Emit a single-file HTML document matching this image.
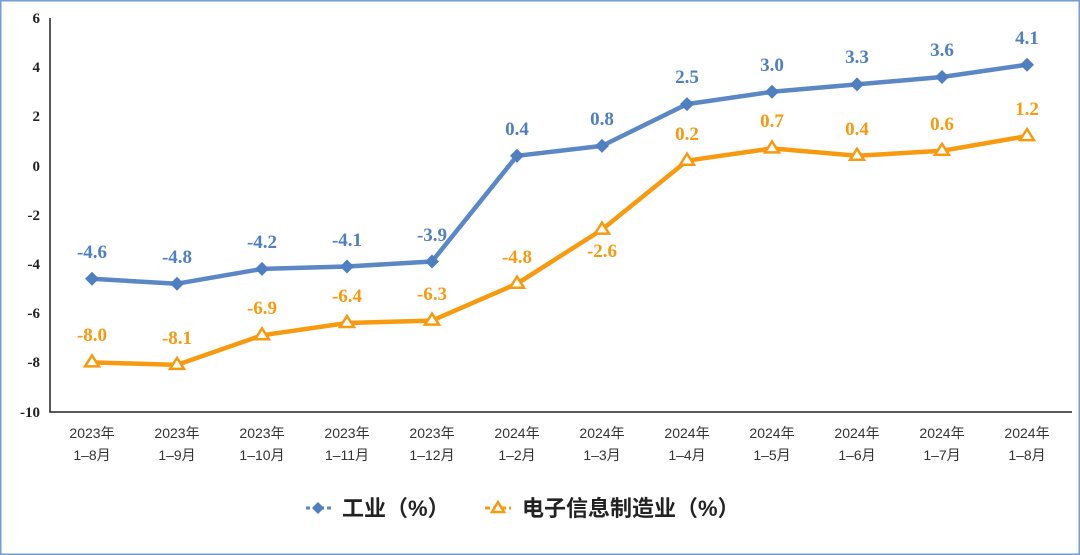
<!DOCTYPE html>
<html><head><meta charset="utf-8"><style>
body{margin:0;background:#fff}
svg{display:block}
</style></head><body>
<svg width="1080" height="555" viewBox="0 0 1080 555" xmlns="http://www.w3.org/2000/svg">
<rect x="0.5" y="0.5" width="1079" height="554" fill="#fff" stroke="#6f9fd6" stroke-width="2"/>
<g font-family="Liberation Serif, serif" font-weight="bold" font-size="15" fill="#222" text-anchor="end">
<text x="40" y="23">6</text><text x="40" y="72">4</text><text x="40" y="121">2</text><text x="40" y="171">0</text>
<text x="40" y="220">-2</text><text x="40" y="269">-4</text><text x="40" y="318">-6</text><text x="40" y="367">-8</text><text x="40" y="417">-10</text>
</g>
<path d="M50 18 V412 H1072" fill="none" stroke="#222" stroke-width="1.5"/>
<g font-family="Liberation Sans, Noto Sans CJK SC, sans-serif" font-size="14" fill="#333" text-anchor="middle">
<text x="92" y="438">2023年</text><text x="92" y="460">1–8月</text>
<text x="177" y="438">2023年</text><text x="177" y="460">1–9月</text>
<text x="262" y="438">2023年</text><text x="262" y="460">1–10月</text>
<text x="347" y="438">2023年</text><text x="347" y="460">1–11月</text>
<text x="432" y="438">2023年</text><text x="432" y="460">1–12月</text>
<text x="517" y="438">2024年</text><text x="517" y="460">1–2月</text>
<text x="602" y="438">2024年</text><text x="602" y="460">1–3月</text>
<text x="687" y="438">2024年</text><text x="687" y="460">1–4月</text>
<text x="772" y="438">2024年</text><text x="772" y="460">1–5月</text>
<text x="857" y="438">2024年</text><text x="857" y="460">1–6月</text>
<text x="942" y="438">2024年</text><text x="942" y="460">1–7月</text>
<text x="1027" y="438">2024年</text><text x="1027" y="460">1–8月</text>
</g>
<polyline fill="none" stroke="#5b87c5" stroke-width="4.5" stroke-linejoin="round" points="92,278.8 177,283.7 262,268.9 347,266.5 432,261.5 517,155.8 602,145.9 687,104.1 772,91.8 857,84.4 942,77 1027,64.7"/>
<g fill="#4f7fc0">
<path d="M92 271.8l7 7-7 7-7-7z"/><path d="M177 276.7l7 7-7 7-7-7z"/><path d="M262 261.9l7 7-7 7-7-7z"/><path d="M347 259.5l7 7-7 7-7-7z"/><path d="M432 254.5l7 7-7 7-7-7z"/><path d="M517 148.8l7 7-7 7-7-7z"/><path d="M602 138.9l7 7-7 7-7-7z"/><path d="M687 97.1l7 7-7 7-7-7z"/><path d="M772 84.8l7 7-7 7-7-7z"/><path d="M857 77.4l7 7-7 7-7-7z"/><path d="M942 70l7 7-7 7-7-7z"/><path d="M1027 57.7l7 7-7 7-7-7z"/>
</g>
<polyline fill="none" stroke="#f79a0f" stroke-width="4.5" stroke-linejoin="round" points="92,362.4 177,364.9 262,335.3 347,323 432,320.6 517,283.7 602,229.6 687,160.7 772,148.4 857,155.8 942,150.8 1027,136.1"/>
<g fill="#fff" stroke="#f79a0f" stroke-width="2.5">
<path d="M92 355.4l7 11h-14z"/><path d="M177 357.9l7 11h-14z"/><path d="M262 328.3l7 11h-14z"/><path d="M347 316l7 11h-14z"/><path d="M432 313.6l7 11h-14z"/><path d="M517 276.7l7 11h-14z"/><path d="M602 222.6l7 11h-14z"/><path d="M687 153.7l7 11h-14z"/><path d="M772 141.4l7 11h-14z"/><path d="M857 148.8l7 11h-14z"/><path d="M942 143.8l7 11h-14z"/><path d="M1027 129.1l7 11h-14z"/>
</g>
<g font-family="Liberation Serif, serif" font-weight="bold" font-size="19" fill="#4f7fc0" text-anchor="middle">
<text x="92" y="258">-4.6</text><text x="177" y="263">-4.8</text><text x="262" y="248">-4.2</text><text x="347" y="246">-4.1</text><text x="432" y="241">-3.9</text><text x="517" y="135">0.4</text><text x="602" y="125">0.8</text><text x="687" y="83">2.5</text><text x="772" y="71">3.0</text><text x="857" y="63">3.3</text><text x="942" y="56">3.6</text><text x="1027" y="44">4.1</text>
</g>
<g font-family="Liberation Serif, serif" font-weight="bold" font-size="19" fill="#f79a0f" text-anchor="middle">
<text x="92" y="341">-8.0</text><text x="177" y="344">-8.1</text><text x="262" y="314">-6.9</text><text x="347" y="302">-6.4</text><text x="432" y="300">-6.3</text><text x="517" y="263">-4.8</text><text x="602" y="257">-2.6</text><text x="687" y="140">0.2</text><text x="772" y="127">0.7</text><text x="857" y="135">0.4</text><text x="942" y="130">0.6</text><text x="1027" y="115">1.2</text>
</g>
<line x1="306" y1="508" x2="331" y2="508" stroke="#5b87c5" stroke-width="3" stroke-dasharray="4,3"/>
<path d="M318 502l6 6-6 6-6-6z" fill="#4f7fc0"/>
<line x1="485" y1="508" x2="511" y2="508" stroke="#f79a0f" stroke-width="3" stroke-dasharray="5,3"/>
<path d="M498 502l6 10h-12z" fill="#fff" stroke="#f79a0f" stroke-width="2.5"/>
<g font-family="Liberation Sans, Noto Sans CJK SC, sans-serif" font-weight="bold" font-size="22" fill="#222">
<text x="342" y="516">工业（%）</text>
<text x="522" y="516">电子信息制造业（%）</text>
</g>
</svg>
</body></html>
